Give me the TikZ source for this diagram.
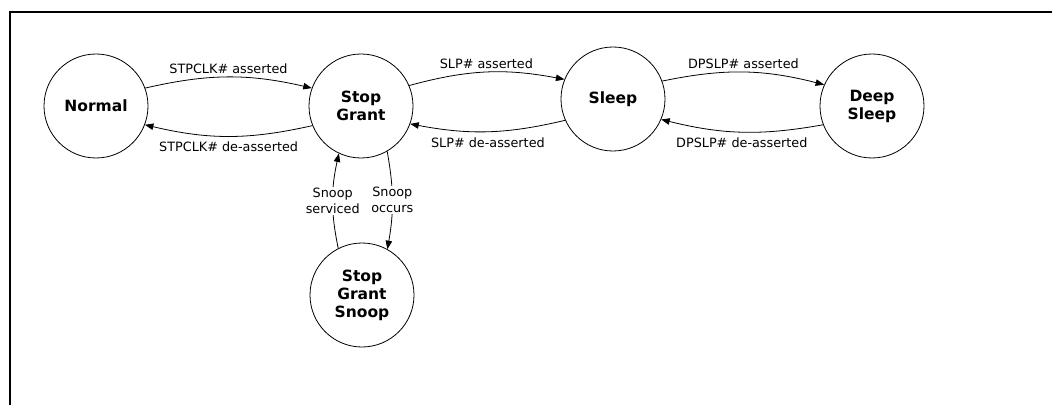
\documentclass[tikz,border=0pt]{standalone}
\usepackage{fontspec}
\setmainfont{DejaVu Sans}
\usetikzlibrary{arrows.meta}
\begin{document}
\begin{tikzpicture}[x=1pt,y=1pt,
  state/.style={circle,draw,line width=0.8pt,minimum size=104pt,inner sep=0pt,align=center,font=\fontsize{15.5}{18}\selectfont\bfseries},
  trans/.style={line width=0.8pt,-{Triangle[length=8.5pt,width=6.5pt]}},
  lab/.style={font=\fontsize{12.8}{16}\selectfont,align=center},
  labup/.style={lab,above,inner sep=3pt},
  labdn/.style={lab,below,inner sep=5.5pt},
  snooplab/.style={lab,fill=white,inner sep=1pt}
]
\useasboundingbox (0,0) rectangle (1052,405);
\draw[line width=2pt] (10,0) -- (10,393) -- (1052,393);

\node[state] (normal) at (96,299) {Normal};
\node[state] (sg) at (361,299) {Stop\\Grant};
\node[state] (sleep) at (613,306) {Sleep};
\node[state] (deep) at (872,299) {Deep\\Sleep};
\node[state] (snoop) at (362,110) {Stop\\Grant\\Snoop};

\draw[trans] (normal.20) to[bend left=13] node[labup]{STPCLK\# asserted} (sg.160);
\draw[trans] (sg.202) to[bend left=13] node[labdn]{STPCLK\# de-asserted} (normal.339);
\draw[trans] (sg.23) to[bend left=13] node[labup]{SLP\# asserted} (sleep.158);
\draw[trans] (sleep.204) to[bend left=12] node[labdn]{SLP\# de-asserted} (sg.340);
\draw[trans] (sleep.20) to[bend left=13] node[labup]{DPSLP\# asserted} (deep.156);
\draw[trans] (deep.201) to[bend left=12] node[labdn]{DPSLP\# de-asserted} (sleep.337);
\draw[trans] (snoop.117) to[bend left=12] node[snooplab]{Snoop\\serviced} (sg.245);
\draw[trans] (sg.300) to[bend left=10] node[snooplab]{Snoop\\occurs} (snoop.61);
\end{tikzpicture}
\end{document}
